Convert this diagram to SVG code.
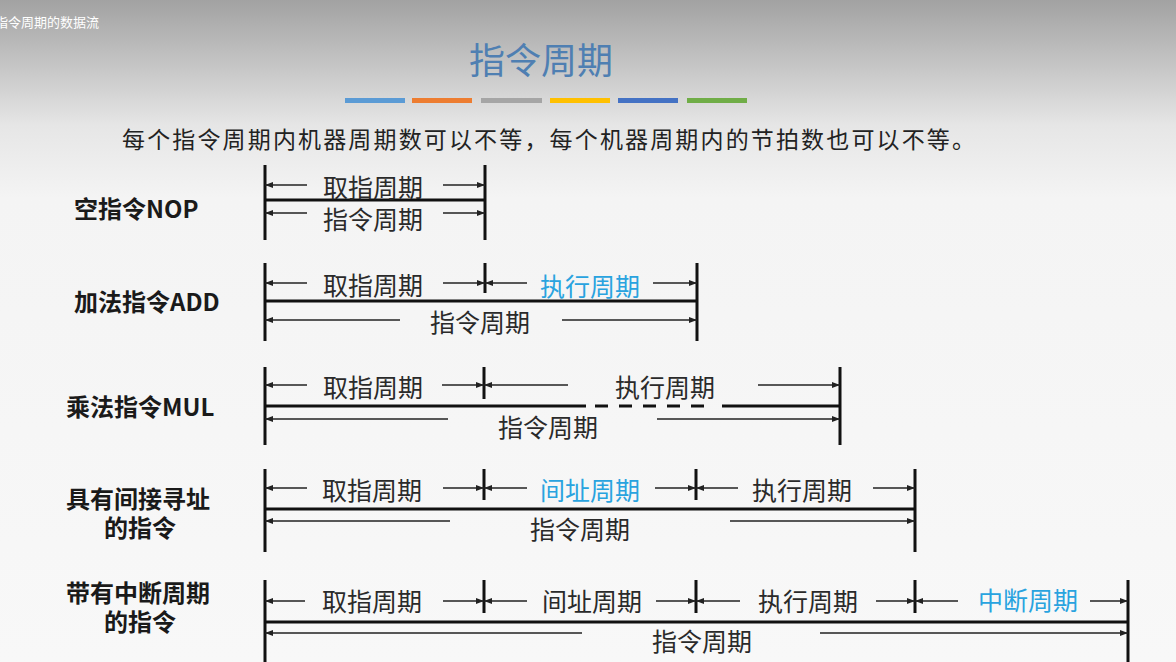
<svg xmlns="http://www.w3.org/2000/svg" width="1176" height="662" viewBox="0 0 1176 662">
<defs>
<linearGradient id="bg" x1="0" y1="0" x2="0" y2="662" gradientUnits="userSpaceOnUse">
<stop offset="0" stop-color="#a2a2a2"/>
<stop offset="0.09" stop-color="#c2c2c2"/>
<stop offset="0.19" stop-color="#e6e6e6"/>
<stop offset="0.3" stop-color="#f4f4f4"/>
<stop offset="1" stop-color="#f8f8f8"/>
</linearGradient>
<marker id="ah" markerUnits="userSpaceOnUse" markerWidth="9" markerHeight="7" refX="8" refY="3" orient="auto">
<path d="M0,0 L8,3 L0,6 z" fill="#222"/>
</marker>
<style>
.t{font-family:"Noto Sans CJK SC","Noto Sans",sans-serif;font-size:25px;fill:#2a2a2a;text-anchor:middle;dominant-baseline:central}
.b{fill:#29a3df}
.lb{font-family:"Noto Sans CJK SC","Noto Sans",sans-serif;font-size:24px;font-weight:bold;fill:#1a1a1a;dominant-baseline:central}
.bar{stroke:#111;stroke-width:3;fill:none}
.ar{stroke:#222;stroke-width:1.3;fill:none;marker-end:url(#ah)}
</style>
</defs>
<rect x="0" y="0" width="1176" height="662" fill="url(#bg)"/>
<text x="-5" y="27" font-family="Noto Sans CJK SC, sans-serif" font-size="13" fill="#ffffff">指令周期的数据流</text>
<g id="title">
<text x="541" y="58" font-family="Noto Sans CJK SC, sans-serif" font-size="36" fill="#4f7fb2" text-anchor="middle" dominant-baseline="central">指令周期</text>
<rect x="345" y="98" width="60" height="5" fill="#5b9bd5"/>
<rect x="412" y="98" width="60" height="5" fill="#ed7d31"/>
<rect x="481" y="98" width="61" height="5" fill="#a5a5a5"/>
<rect x="550" y="98" width="60" height="5" fill="#ffc000"/>
<rect x="618" y="98" width="60" height="5" fill="#4472c4"/>
<rect x="687" y="98" width="60" height="5" fill="#70ad47"/>
</g>
<g id="subtitle">
<text x="122" y="138" font-family="Noto Sans CJK SC, sans-serif" font-size="23" fill="#222" dominant-baseline="central" textLength="853" lengthAdjust="spacing">每个指令周期内机器周期数可以不等，每个机器周期内的节拍数也可以不等。</text>
</g>
<g id="labels">
<text class="lb" x="74" y="207">空指令NOP</text>
<text class="lb" x="74" y="300">加法指令ADD</text>
<text class="lb" x="66" y="405">乘法指令MUL</text>
<text class="lb" x="66" y="497">具有间接寻址</text>
<text class="lb" x="104" y="526">的指令</text>
<text class="lb" x="66" y="591">带有中断周期</text>
<text class="lb" x="104" y="620">的指令</text>
</g>
<g id="row-nop">
<path class="bar" d="M265,165V240M485,165V240M265,200H485"/>
<text class="t" x="373" y="186">取指周期</text>
<text class="t" x="373" y="218">指令周期</text>
</g>
<g id="row-add">
<path class="bar" d="M265,263V341M485,263V293M697,263V341M265,301H697"/>
<text class="t" x="373" y="284">取指周期</text>
<text class="t b" x="590" y="285">执行周期</text>
<text class="t" x="480" y="321">指令周期</text>
</g>
<g id="row-mul">
<path class="bar" d="M265,367V445M484,367V399M840,367V445M265,406H586M722,406H840"/>
<path class="bar" d="M595,406H714" stroke-dasharray="13,11"/>
<text class="t" x="373" y="386">取指周期</text>
<text class="t" x="665" y="386">执行周期</text>
<text class="t" x="548" y="426">指令周期</text>
</g>
<g id="row-indirect">
<path class="bar" d="M265,469V552M484,469V500M696,469V500M915,469V552M265,509H915"/>
<text class="t" x="372" y="489">取指周期</text>
<text class="t b" x="590" y="489">间址周期</text>
<text class="t" x="802" y="489">执行周期</text>
<text class="t" x="580" y="528">指令周期</text>
</g>
<g id="row-interrupt">
<path class="bar" d="M265,580V662M484,580V613M696,580V613M915,580V613M1128,580V662M265,622H1128"/>
<text class="t" x="372" y="600">取指周期</text>
<text class="t" x="592" y="600">间址周期</text>
<text class="t" x="808" y="600">执行周期</text>
<text class="t b" x="1028" y="599">中断周期</text>
<text class="t" x="702" y="640">指令周期</text>
</g>
<g id="connectors">
<line class="ar" x1="307" y1="185" x2="265" y2="185"/>
<line class="ar" x1="443" y1="185" x2="485" y2="185"/>
<line class="ar" x1="307" y1="213" x2="265" y2="213"/>
<line class="ar" x1="443" y1="213" x2="485" y2="213"/>
<line class="ar" x1="307" y1="283" x2="265" y2="283"/>
<line class="ar" x1="443" y1="283" x2="485" y2="283"/>
<line class="ar" x1="527" y1="283" x2="485" y2="283"/>
<line class="ar" x1="653" y1="283" x2="697" y2="283"/>
<line class="ar" x1="400" y1="320" x2="265" y2="320"/>
<line class="ar" x1="562" y1="320" x2="697" y2="320"/>
<line class="ar" x1="307" y1="385" x2="265" y2="385"/>
<line class="ar" x1="442" y1="385" x2="484" y2="385"/>
<line class="ar" x1="568" y1="385" x2="484" y2="385"/>
<line class="ar" x1="758" y1="385" x2="840" y2="385"/>
<line class="ar" x1="448" y1="419" x2="265" y2="419"/>
<line class="ar" x1="657" y1="419" x2="840" y2="419"/>
<line class="ar" x1="307" y1="488" x2="265" y2="488"/>
<line class="ar" x1="443" y1="488" x2="484" y2="488"/>
<line class="ar" x1="527" y1="488" x2="484" y2="488"/>
<line class="ar" x1="655" y1="488" x2="696" y2="488"/>
<line class="ar" x1="738" y1="488" x2="696" y2="488"/>
<line class="ar" x1="873" y1="488" x2="915" y2="488"/>
<line class="ar" x1="450" y1="521" x2="265" y2="521"/>
<line class="ar" x1="730" y1="521" x2="915" y2="521"/>
<line class="ar" x1="305" y1="601" x2="265" y2="601"/>
<line class="ar" x1="443" y1="601" x2="484" y2="601"/>
<line class="ar" x1="527" y1="601" x2="484" y2="601"/>
<line class="ar" x1="656" y1="601" x2="696" y2="601"/>
<line class="ar" x1="740" y1="601" x2="696" y2="601"/>
<line class="ar" x1="876" y1="601" x2="915" y2="601"/>
<line class="ar" x1="958" y1="601" x2="915" y2="601"/>
<line class="ar" x1="1090" y1="601" x2="1128" y2="601"/>
<line class="ar" x1="582" y1="633" x2="265" y2="633"/>
<line class="ar" x1="820" y1="633" x2="1128" y2="633"/>
</g>
</svg>
